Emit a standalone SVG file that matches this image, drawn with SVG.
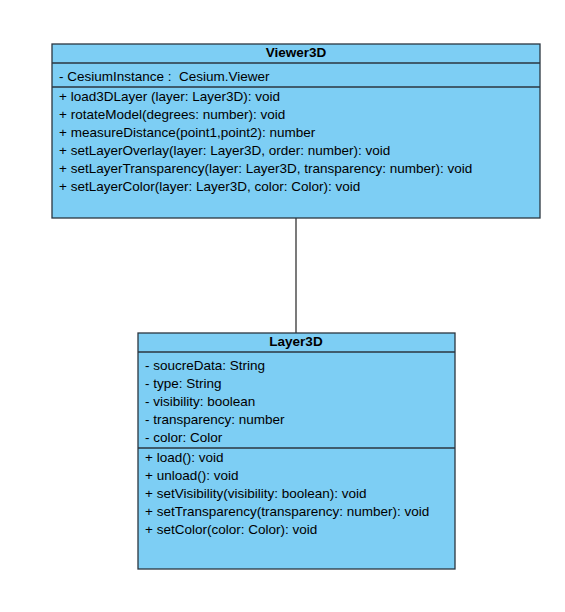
<svg xmlns="http://www.w3.org/2000/svg" width="565" height="612" viewBox="0 0 565 612">
<style>
.box{fill:#7dcef4;stroke:#2b3640;stroke-width:1.3}
.sep{stroke:#2b3640;stroke-width:1.3}
.t{font-family:"Liberation Sans",Arial,sans-serif;font-size:13.5px;fill:#000}
.h{font-family:"Liberation Sans",Arial,sans-serif;font-size:13.5px;font-weight:bold;fill:#000;text-anchor:middle}
.conn{stroke:#222;stroke-width:1.2;fill:none}
</style>
<rect width="565" height="612" fill="#fff"/>
<g id="connectors">
<line class="conn" x1="296" y1="218" x2="296" y2="333"/>
</g>
<g id="Viewer3D">
<rect class="box" x="52" y="44" width="488" height="174"/>
<line class="sep" x1="52" y1="63" x2="540" y2="63"/>
<line class="sep" x1="52" y1="87" x2="540" y2="87"/>
<text class="h" x="296" y="57">Viewer3D</text>
<text class="t" x="59" y="81" xml:space="preserve">- CesiumInstance :  Cesium.Viewer</text>
<text class="t" x="59" y="101">+ load3DLayer (layer: Layer3D): void</text>
<text class="t" x="59" y="119">+ rotateModel(degrees: number): void</text>
<text class="t" x="59" y="137">+ measureDistance(point1,point2): number</text>
<text class="t" x="59" y="155">+ setLayerOverlay(layer: Layer3D, order: number): void</text>
<text class="t" x="59" y="173">+ setLayerTransparency(layer: Layer3D, transparency: number): void</text>
<text class="t" x="59" y="191">+ setLayerColor(layer: Layer3D, color: Color): void</text>
</g>
<g id="Layer3D">
<rect class="box" x="138" y="333" width="317" height="236"/>
<line class="sep" x1="138" y1="352" x2="455" y2="352"/>
<line class="sep" x1="138" y1="448" x2="455" y2="448"/>
<text class="h" x="296" y="346">Layer3D</text>
<text class="t" x="145" y="370">- soucreData: String</text>
<text class="t" x="145" y="388">- type: String</text>
<text class="t" x="145" y="406">- visibility: boolean</text>
<text class="t" x="145" y="424">- transparency: number</text>
<text class="t" x="145" y="442">- color: Color</text>
<text class="t" x="145" y="462">+ load(): void</text>
<text class="t" x="145" y="480">+ unload(): void</text>
<text class="t" x="145" y="498">+ setVisibility(visibility: boolean): void</text>
<text class="t" x="145" y="516">+ setTransparency(transparency: number): void</text>
<text class="t" x="145" y="534">+ setColor(color: Color): void</text>
</g>
</svg>
